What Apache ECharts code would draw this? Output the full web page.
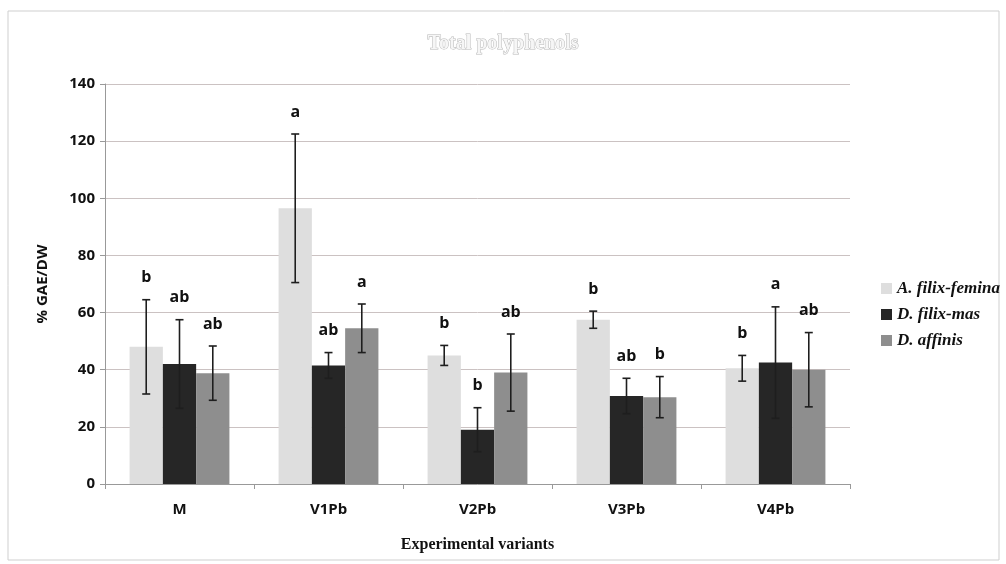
<!DOCTYPE html>
<html><head><meta charset="utf-8">
<script src="https://cdn.jsdelivr.net/npm/echarts@6/dist/echarts.min.js"></script>
<style>html,body{margin:0;padding:0;background:#fff}#c{width:1006px;height:564px}</style>
</head><body><div id="c"></div>
<script>
const categories = ['M', 'V1Pb', 'V2Pb', 'V3Pb', 'V4Pb'];
const seriesNames = ['A. filix-femina', 'D. filix-mas', 'D. affinis'];
const femina = [48, 96.5, 45, 57.5, 40.5];
const feminaErr = [16.5, 26, 3.5, 3, 4.5];
const feminaLetters = ['b', 'a', 'b', 'b', 'b'];
const mas = [42, 41.5, 19, 30.8, 42.5];
const masErr = [15.5, 4.5, 7.7, 6.2, 19.5];
const masLetters = ['ab', 'ab', 'b', 'ab', 'a'];
const affinis = [38.8, 54.5, 39, 30.4, 40];
const affinisErr = [9.5, 8.5, 13.5, 7.2, 13];
const affinisLetters = ['ab', 'a', 'ab', 'b', 'ab'];
const yMin = 0, yMax = 140, yStep = 20;

const colors = ['#dedede', '#262626', '#8e8e8e'];
const values = [femina, mas, affinis];
const errs = [feminaErr, masErr, affinisErr];
const letters = [feminaLetters, masLetters, affinisLetters];
const gapRatio = 0.33;

function makeRender(k) {
  return function (params, api) {
    const ci = api.value(0), v = api.value(1), e = api.value(2);
    const band = api.size([1, 0])[0];
    const bw = band * (1 - gapRatio) / 3;
    const cx = api.coord([ci, 0])[0] - 1.5 * bw + (k + 0.5) * bw;
    const top = api.coord([ci, v + e])[1];
    const bot = api.coord([ci, v - e])[1];
    const cap = 4;
    const st = { stroke: '#1e1e1e', lineWidth: 1.6 };
    return {
      type: 'group', children: [
        { type: 'line', shape: { x1: cx, y1: top, x2: cx, y2: bot }, style: st },
        { type: 'line', shape: { x1: cx - cap, y1: top, x2: cx + cap, y2: top }, style: st },
        { type: 'line', shape: { x1: cx - cap, y1: bot, x2: cx + cap, y2: bot }, style: st },
        { type: 'text', x: cx, y: top - 22, style: {
            text: letters[k][params.dataIndex], fill: '#111',
            font: 'bold 16px "Open Sans", sans-serif', textAlign: 'center', textVerticalAlign: 'middle' } }
      ]
    };
  };
}

const series = [];
for (let k = 0; k < 3; k++) {
  series.push({
    name: seriesNames[k], type: 'bar', data: values[k],
    itemStyle: { color: colors[k] },
    barGap: '0%', barCategoryGap: (gapRatio * 100) + '%'
  });
}
for (let k = 0; k < 3; k++) {
  series.push({
    name: 'err' + k, type: 'custom', renderItem: makeRender(k), z: 10,
    data: values[k].map((v, i) => [i, v, errs[k][i]])
  });
}

const chart = echarts.init(document.getElementById('c'));
chart.setOption({
  animation: false,
  backgroundColor: '#fff',
  title: {
    text: 'Total polyphenols', left: 'center', top: 29,
    textStyle: { color: '#f6f6f6', fontFamily: 'Liberation Serif, serif', fontSize: 20, fontWeight: 'bold',
      textBorderColor: '#b8b8b8', textBorderWidth: 1 }
  },
  graphic: [{ type: 'rect', shape: { x: 8, y: 11, width: 991, height: 549 }, style: { fill: 'none', stroke: '#cfcfcf', lineWidth: 1 }, z: -1 }],
  legend: {
    data: seriesNames, orient: 'vertical', left: 876, top: 275, itemGap: 9,
    itemWidth: 11, itemHeight: 11, icon: 'rect',
    textStyle: { fontFamily: 'Liberation Serif, serif', fontStyle: 'italic', fontWeight: 'bold', fontSize: 17, color: '#111' }
  },
  grid: { left: 105, right: 156, top: 84, bottom: 80 },
  xAxis: {
    type: 'category', data: categories,
    name: 'Experimental variants', nameLocation: 'middle', nameGap: 53,
    nameTextStyle: { fontFamily: 'Liberation Serif, serif', fontWeight: 'bold', fontSize: 16, color: '#111' },
    axisLine: { lineStyle: { color: '#999' } },
    axisTick: { show: true, length: 5, lineStyle: { color: '#999' } },
    axisLabel: { fontFamily: '"Open Sans", sans-serif', fontWeight: 'bold', fontSize: 15, color: '#111', margin: 18 }
  },
  yAxis: {
    type: 'value', min: yMin, max: yMax, interval: yStep,
    name: '% GAE/DW', nameLocation: 'middle', nameGap: 55,
    nameTextStyle: { fontFamily: '"Open Sans", sans-serif', fontWeight: 'bold', fontSize: 15, color: '#111' },
    axisLine: { show: true, lineStyle: { color: '#999' } },
    axisTick: { show: true, length: 5, lineStyle: { color: '#999' } },
    axisLabel: { fontFamily: '"Open Sans", sans-serif', fontWeight: 'bold', fontSize: 15, color: '#111', margin: 10 },
    splitLine: { lineStyle: { color: '#cbc2c2', width: 1 } }
  },
  series: series
});
</script></body></html>
